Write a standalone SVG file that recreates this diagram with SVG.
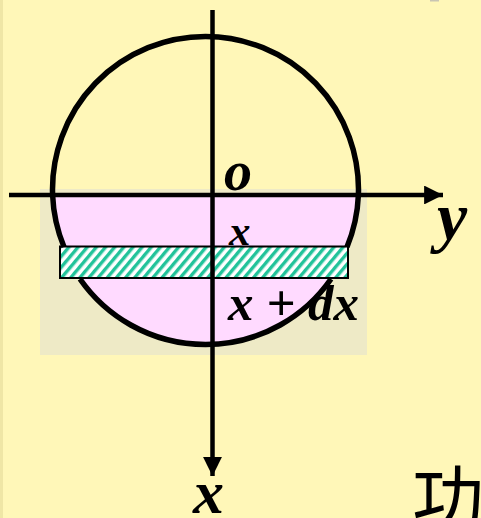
<svg xmlns="http://www.w3.org/2000/svg" width="481" height="518" viewBox="0 0 481 518">
  <defs>
    <pattern id="hatch" width="7" height="7" patternUnits="userSpaceOnUse" patternTransform="rotate(40)">
      <rect width="7" height="7" fill="#ffffff"/>
      <rect x="0" y="0" width="3.4" height="7" fill="#22c39a"/>
    </pattern>
    <marker id="arr" viewBox="0 0 10 10" refX="10" refY="5" markerWidth="4.2" markerHeight="4.2" orient="auto" markerUnits="strokeWidth">
      <path d="M0,0 L10,5 L0,10 Z" fill="#000"/>
    </marker>
  </defs>
  <style>
    .lbl { font-family: "Liberation Serif", "Times New Roman", serif; font-style: italic; font-weight: bold; fill: #000; }
    .axis { stroke: #000; stroke-width: 4.5; fill: none; }
    .ring { fill: none; stroke: #000; stroke-width: 5.5; }
  </style>
  <rect width="481" height="518" fill="#fff7b8"/>
  <rect x="0" y="0" width="3" height="518" fill="#efe6a6"/>
  <rect x="430" y="0" width="9" height="1.5" fill="#c9c5b3"/>

  <g id="region">
    <rect x="40" y="189" width="327" height="166" fill="#eeeac6"/>
    <path d="M52.6,195 A153,153 0 0 0 358.4,195 Z" fill="#ffdaff"/>
  </g>

  <g id="strip">
    <rect x="60" y="246.5" width="288" height="31.5" fill="url(#hatch)" stroke="#000" stroke-width="2"/>
  </g>

  <g id="circle">
    <path class="ring" d="M52.6,195 A153,153 0 1 1 358.4,195"/>
    <path class="ring" d="M52.6,195 A153,153 0 0 0 64,247"/>
    <path class="ring" d="M347,247 A153,153 0 0 0 358.4,195"/>
    <path class="ring" d="M80,279 A153,153 0 0 0 331,279"/>
  </g>

  <g id="connectors">
    <line class="axis" x1="9" y1="195" x2="443" y2="195" marker-end="url(#arr)"/>
    <line class="axis" x1="212.5" y1="10" x2="212.5" y2="476" marker-end="url(#arr)"/>
  </g>

  <g id="labels">
    <text class="lbl" x="224" y="190" font-size="56">o</text>
    <text class="lbl" x="229" y="245" font-size="43">x</text>
    <text class="lbl" x="228" y="320" font-size="51" xml:space="preserve">x + dx</text>
    <text class="lbl" x="437" y="240" font-size="68">y</text>
    <text class="lbl" x="193" y="513" font-size="62">x</text>
    <text x="412" y="525" font-size="72" font-family="'Noto Sans CJK SC', sans-serif" fill="#000">功</text>
  </g>
</svg>
